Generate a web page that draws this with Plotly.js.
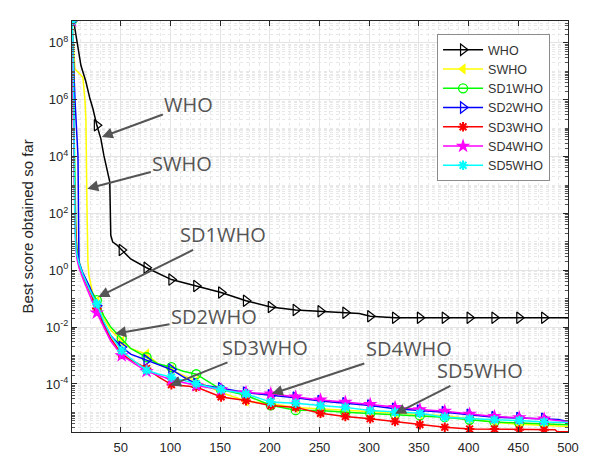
<!DOCTYPE html>
<html><head><meta charset="utf-8">
<script src="https://cdn.plot.ly/plotly-3.0.1.min.js"></script>
<style>html,body{margin:0;padding:0;background:#fff}#chart{width:591px;height:454px}</style>
</head><body><div id="chart"></div>
<script>
const seriesNames = ['WHO','SWHO','SD1WHO','SD2WHO','SD3WHO','SD4WHO','SD5WHO'];

const whoX = [1,3,10,15,19,22,26,30,33,37,39,40,42,46,51,60,76,90,101,126,151,176,201,226,251,276,290,301,320,326,351,376,401,426,451,476,500];
const whoY = [6e8,5e8,1.6e7,4.3e6,1.1e6,4.9e5,1.26e5,4.3e4,1.12e4,2.9e3,1.3e3,17,9.8,7.9,5.2,2.5,1.23,0.71,0.47,0.28,0.166,0.085,0.051,0.040,0.036,0.032,0.030,0.024,0.0214,0.0214,0.0214,0.0214,0.0214,0.0214,0.0214,0.0214,0.0214];

const swhoX = [1,4,9,12,14,15,16,17,18,22,26,33,40,51,60,76,88,101,113,126,151,176,201,226,251,276,301,326,351,376,401,426,451,476,500];
const swhoY = [6e8,1.2e7,8e6,6e6,1e6,2e5,2.5e2,2,0.66,0.15,0.079,0.02,7.9e-3,3.2e-3,1.78e-3,1.12e-3,5.0e-4,3.2e-4,2.0e-4,1.26e-4,5.0e-5,2.5e-5,2.0e-5,1.48e-5,1.32e-5,1.17e-5,1.05e-5,9.5e-6,8.7e-6,7.6e-6,6.0e-6,4.5e-6,3.8e-6,3.55e-6,3.2e-6];

const sd1X = [1,2,3,4,5,6,8,12,19,26,33,40,51,60,76,88,101,113,126,151,176,201,226,251,276,301,326,351,376,401,426,451,476,500];
const sd1Y = [6e8,5e6,3e4,2e2,20,6,2.0,0.71,0.224,0.089,0.025,0.01,4.0e-3,1.78e-3,8.7e-4,5.0e-4,3.9e-4,2.8e-4,2.2e-4,6.3e-5,4.0e-5,1.78e-5,1.2e-5,1.17e-5,1.02e-5,9.3e-6,8.5e-6,7.8e-6,6.8e-6,5.5e-6,4.6e-6,4.2e-6,4.0e-6,3.7e-6];

const sd2X = [1,2,4,7,8,12,19,26,33,40,51,60,76,88,101,113,126,151,176,201,226,251,276,301,326,351,376,401,426,451,476,490,500];
const sd2Y = [6e8,5e7,1e6,1.1e4,1.9,0.79,0.25,0.056,0.014,5.0e-3,2.0e-3,1.12e-3,6.8e-4,4.5e-4,3.2e-4,1.78e-4,1.0e-4,7.1e-5,5.0e-5,4.0e-5,3.3e-5,2.5e-5,2.1e-5,1.74e-5,1.35e-5,1.17e-5,1.02e-5,8.3e-6,6.8e-6,6.3e-6,6.0e-6,5.6e-6,4.8e-6];

const sd3X = [1,2,3,4,5,6,8,12,19,26,33,40,51,60,76,88,101,113,126,151,176,201,226,251,276,301,326,351,376,401,426,451,476,487,489,500];
const sd3Y = [6e8,1e7,1e4,1e2,10,3,1.6,0.63,0.178,0.045,0.0112,4.0e-3,1.12e-3,7.1e-4,3.5e-4,1.78e-4,9.5e-5,8.7e-5,7.8e-5,3.5e-5,2.6e-5,1.74e-5,1.5e-5,9.3e-6,7.2e-6,6.0e-6,4.8e-6,3.7e-6,3.0e-6,2.6e-6,2.6e-6,2.45e-6,2.45e-6,2.45e-6,2.1e-6,2.1e-6];

const sd4X = [1,2,3,4,5,6,8,12,19,26,33,40,51,60,76,88,101,113,126,151,176,201,226,251,276,301,326,351,376,401,426,451,476,500];
const sd4Y = [6e8,1e6,1e3,30,5,2.5,1.26,0.5,0.126,0.032,0.01,3.2e-3,1.0e-3,6.3e-4,2.8e-4,2.0e-4,1.41e-4,1.12e-4,8.9e-5,6.3e-5,5.0e-5,4.5e-5,3.5e-5,2.75e-5,2.3e-5,1.9e-5,1.5e-5,1.26e-5,1.1e-5,8.7e-6,7.2e-6,6.5e-6,5.9e-6,4.7e-6];

const sd5X = [1,2,3,4,5,6,8,12,19,26,33,40,51,60,76,88,101,113,126,151,176,201,226,251,276,301,326,351,376,401,426,451,476,500];
const sd5Y = [6e8,1e8,1e5,30,6,3.5,1.8,0.71,0.2,0.066,0.0158,5.0e-3,1.5e-3,7.9e-4,3.0e-4,2.24e-4,1.74e-4,1.32e-4,1.02e-4,6.3e-5,4.5e-5,2.3e-5,2.1e-5,1.74e-5,1.5e-5,1.17e-5,1.02e-5,9.3e-6,6.8e-6,6.0e-6,5.5e-6,5.2e-6,4.6e-6,4.4e-6];

const yTickVals = [1e-4,1e-2,1,1e2,1e4,1e6,1e8];
const yTickText = ['10<sup>-4</sup>','10<sup>-2</sup>','10<sup>0</sup>','10<sup>2</sup>','10<sup>4</sup>','10<sup>6</sup>','10<sup>8</sup>'];

// annotation labels: [text, tip iteration, tip value]
const labelText = ['WHO','SWHO','SD1WHO','SD2WHO','SD3WHO','SD4WHO','SD5WHO'];
const labelTipX = [31, 16.4, 27.5, 44.3, 99.6, 202, 326];
const labelTipY = [4.9e4, 7.4e2, 0.115, 5.9e-3, 8.9e-5, 4.5e-5, 8.9e-6];

const series = [
  {name:seriesNames[0], x:whoX, y:whoY, color:'#000000', sym:'triangle-right-open', size:10, lw:1.2},
  {name:seriesNames[1], x:swhoX, y:swhoY, color:'#ffff00', sym:'triangle-left', size:10, lw:0},
  {name:seriesNames[2], x:sd1X, y:sd1Y, color:'#00ff00', sym:'circle-open', size:9, lw:1.3},
  {name:seriesNames[3], x:sd2X, y:sd2Y, color:'#0000ff', sym:'triangle-right-open', size:10, lw:1.3},
  {name:seriesNames[4], x:sd3X, y:sd3Y, color:'#ff0000', sym:'asterisk-open', size:8, lw:2},
  {name:seriesNames[5], x:sd4X, y:sd4Y, color:'#ff00ff', sym:'star', size:11, lw:0},
  {name:seriesNames[6], x:sd5X, y:sd5Y, color:'#00ffff', sym:'asterisk-open', size:8, lw:2}
];

const traces = [];
series.forEach(s => {
  const marker = {symbol:s.sym, size:s.size, color:s.color, line:{color:s.color, width:s.lw}};
  traces.push({x:[null], y:[null], type:'scatter', mode:'lines+markers', name:s.name,
    line:{color:s.color, width:1.5}, marker:marker, showlegend:true, hoverinfo:'skip'});
});
series.forEach(s => {
  const marker = {symbol:s.sym, size:s.size, color:s.color, line:{color:s.color, width:s.lw}};
  const mx = [], my = [];
  s.x.forEach((v,i) => { if ((v-1) % 25 === 0) { mx.push(v); my.push(s.y[i]); } });
  traces.push({x:s.x, y:s.y, type:'scatter', mode:'lines', line:{color:s.color, width:1.5}, showlegend:false});
  traces.push({x:mx, y:my, type:'scatter', mode:'markers', marker:marker, showlegend:false});
});

const annFont = {family:'Open Sans, sans-serif', size:20, color:'#555555'};
const annOffsets = [[87,-32],[95,-25],[125,-62],[99,-17],[95,-38],[137,-45],[85,-43]];
const annotations = labelText.map((t,i) => ({
  x: labelTipX[i], y: Math.log10(labelTipY[i]), xref:'x', yref:'y',
  text: t, showarrow:true, arrowhead:2, arrowsize:1.1, arrowwidth:2, arrowcolor:'#555555',
  ax: annOffsets[i][0], ay: annOffsets[i][1], font: annFont
}));

const axisCommon = {ticks:'inside', ticklen:5, tickcolor:'#262626', showline:true, linecolor:'#262626',
  linewidth:1, mirror:'allticks', showgrid:true, gridcolor:'#e4e4e4', zeroline:false,
  tickfont:{family:'Liberation Sans, Arial, sans-serif', size:13, color:'#262626'}};

const layout = {
  width:591, height:454,
  margin:{l:72, r:23, t:21, b:22},
  paper_bgcolor:'#ffffff', plot_bgcolor:'#ffffff',
  font:{family:'Liberation Sans, Arial, sans-serif', size:13, color:'#262626'},
  showlegend:true,
  legend:{x:0.736, y:0.968, xanchor:'left', yanchor:'top', bgcolor:'#ffffff', bordercolor:'#8c8c8c',
    borderwidth:1, font:{size:12.5, color:'#333333'}, itemwidth:40, tracegroupgap:0},
  xaxis: Object.assign({}, axisCommon, {range:[1,500], tick0:0, dtick:50, ticklabelstandoff:3,
    minor:{dtick:10, showgrid:true, gridcolor:'#e8e8e8', griddash:'dot', ticks:''}}),
  yaxis: Object.assign({}, axisCommon, {type:'log', range:[-5.69,8.77], tickmode:'array',
    tickvals:yTickVals, ticktext:yTickText,
    title:{text:'Best score obtained so far', font:{size:15, color:'#262626'}, standoff:8},
    minor:{dtick:'D1', showgrid:true, gridcolor:'#e8e8e8', griddash:'dot', ticks:'inside', ticklen:3, tickcolor:'#555'}}),
  annotations: annotations
};

Plotly.newPlot('chart', traces, layout, {displayModeBar:false, staticPlot:true});
</script>
</body></html>
